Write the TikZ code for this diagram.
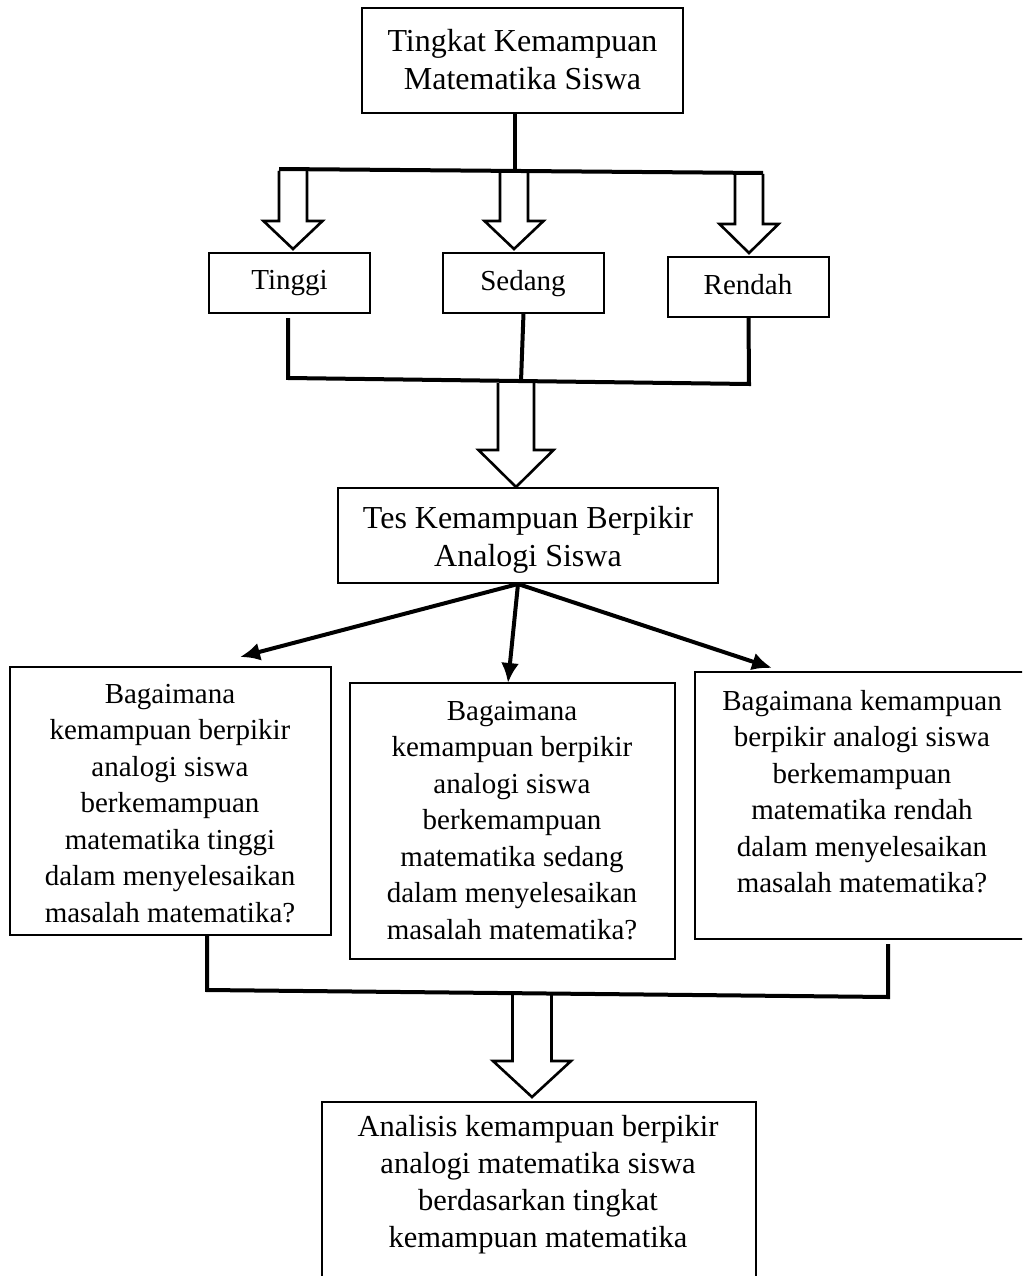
\documentclass[tikz,border=0pt]{standalone}
\usepackage{fontspec}
\setmainfont{Liberation Serif}
\usetikzlibrary{arrows.meta}
\newcommand\hollowarrow[6]{% x, ytop, yhead, ytip, shaft half width, head half width
  \draw[hollow] (#1-#5,#2) -- (#1-#5,#3) -- (#1-#6,#3) -- (#1,#4) -- (#1+#6,#3) -- (#1+#5,#3) -- (#1+#5,#2);}
\begin{document}
\begin{tikzpicture}[x=1pt,y=-1pt,
  box/.style={draw, line width=2.8pt, inner sep=0pt, outer sep=0pt, anchor=north west},
  thinbox/.style={box, line width=1.6pt},
  conn/.style={line width=4pt, line join=miter},
  sarrow/.style={line width=4pt, -{Latex[length=20pt,width=18pt]}},
  hollow/.style={line width=2.6pt, line join=miter},
  txt/.style={inner sep=0pt, outer sep=0pt, align=center},
  bigfont/.style={font=\fontsize{32}{38}\selectfont},
  smallfont/.style={font=\fontsize{29}{35}\selectfont},
  qfont/.style={font=\fontsize{29}{36.5}\selectfont},
  endfont/.style={font=\fontsize{30.5}{37}\selectfont}
]
\clip (0,0) rectangle (1022,1276);
\fill[white] (0,0) rectangle (1022,1276);

% boxes
\node[box, minimum width=321, minimum height=105] (top) at (362,8) {};
\node[thinbox, minimum width=161, minimum height=60] (tinggi) at (209,253) {};
\node[thinbox, minimum width=161, minimum height=60] (sedang) at (443,253) {};
\node[thinbox, minimum width=161, minimum height=60] (rendah) at (668,257) {};
\node[box, minimum width=380, minimum height=95] (tes) at (338,488) {};
\node[box, minimum width=321, minimum height=268] (q1) at (10,667) {};
\node[box, minimum width=325, minimum height=276] (q2) at (350,683) {};
\node[box, minimum width=340, minimum height=267] (q3) at (695,672) {};
\node[box, minimum width=434, minimum height=220] (hasil) at (322,1102) {};

% texts
\node[txt, bigfont, anchor=north] (topt) at (522.5,25.4) {\rule{0pt}{26.6pt}Tingkat Kemampuan\\Matematika Siswa};
\node[txt, smallfont, anchor=base] (tinggit) at (289.5,289) {Tinggi};
\node[txt, smallfont, anchor=base] (sedangt) at (523,290) {Sedang};
\node[txt, smallfont, anchor=base] (rendaht) at (748,294) {Rendah};
\node[txt, bigfont, anchor=north] (test) at (528,502) {\rule{0pt}{26.6pt}Tes Kemampuan Berpikir\\Analogi Siswa};
\node[txt, qfont, anchor=north] (q1t) at (170,677.5) {\rule{0pt}{25.55pt}Bagaimana\\kemampuan berpikir\\analogi siswa\\berkemampuan\\matematika tinggi\\dalam menyelesaikan\\masalah matematika?};
\node[txt, qfont, anchor=north] (q2t) at (512,694.5) {\rule{0pt}{25.55pt}Bagaimana\\kemampuan berpikir\\analogi siswa\\berkemampuan\\matematika sedang\\dalam menyelesaikan\\masalah matematika?};
\node[txt, qfont, anchor=north] (q3t) at (862,684.5) {\rule{0pt}{25.55pt}Bagaimana kemampuan\\berpikir analogi siswa\\berkemampuan\\matematika rendah\\dalam menyelesaikan\\masalah matematika?};
\node[txt, endfont, anchor=north] (hasilt) at (538,1111) {\rule{0pt}{25.9pt}Analisis kemampuan berpikir\\analogi matematika siswa\\berdasarkan tingkat\\kemampuan matematika};

% first split
\coordinate (j1) at (515,170);
\coordinate (bL) at (279,169);
\coordinate (bR) at (763,173);
\draw[conn] (top.south -| j1) -- (j1);
\draw[conn] (bL) -- (bR);
\hollowarrow{293}{171}{221}{249}{14}{29.5}
\hollowarrow{514}{171}{221}{249}{14}{29.5}
\hollowarrow{749}{174}{224}{253}{14}{29.5}

% first merge
\coordinate (c1) at (288,378);
\coordinate (c2) at (749,384);
\coordinate (cm) at (521,381.5);
\draw[conn] ([yshift=-5pt]tinggi.south -| c1) -- (c1) -- (c2) -- (rendah.south);
\draw[conn] (sedang.south) -- (cm);
\hollowarrow{516}{383}{450}{487}{18}{37.5}

% diverging arrows
\coordinate (t0) at (518,584);
\coordinate (a1) at (240,657);
\coordinate (a2) at (508,683);
\coordinate (a3) at (772,668);
\draw[sarrow] (t0) -- (a1);
\draw[sarrow] (t0) -- (a2);
\draw[sarrow] (t0) -- (a3);

% second merge
\coordinate (d1) at (207,990);
\coordinate (d2) at (888,997);
\draw[conn] (q1.south -| d1) -- (d1) -- (d2) -- ([yshift=-5pt]q3.south -| d2);
\hollowarrow{532}{995}{1061}{1097}{19.5}{39}
\end{tikzpicture}
\end{document}
